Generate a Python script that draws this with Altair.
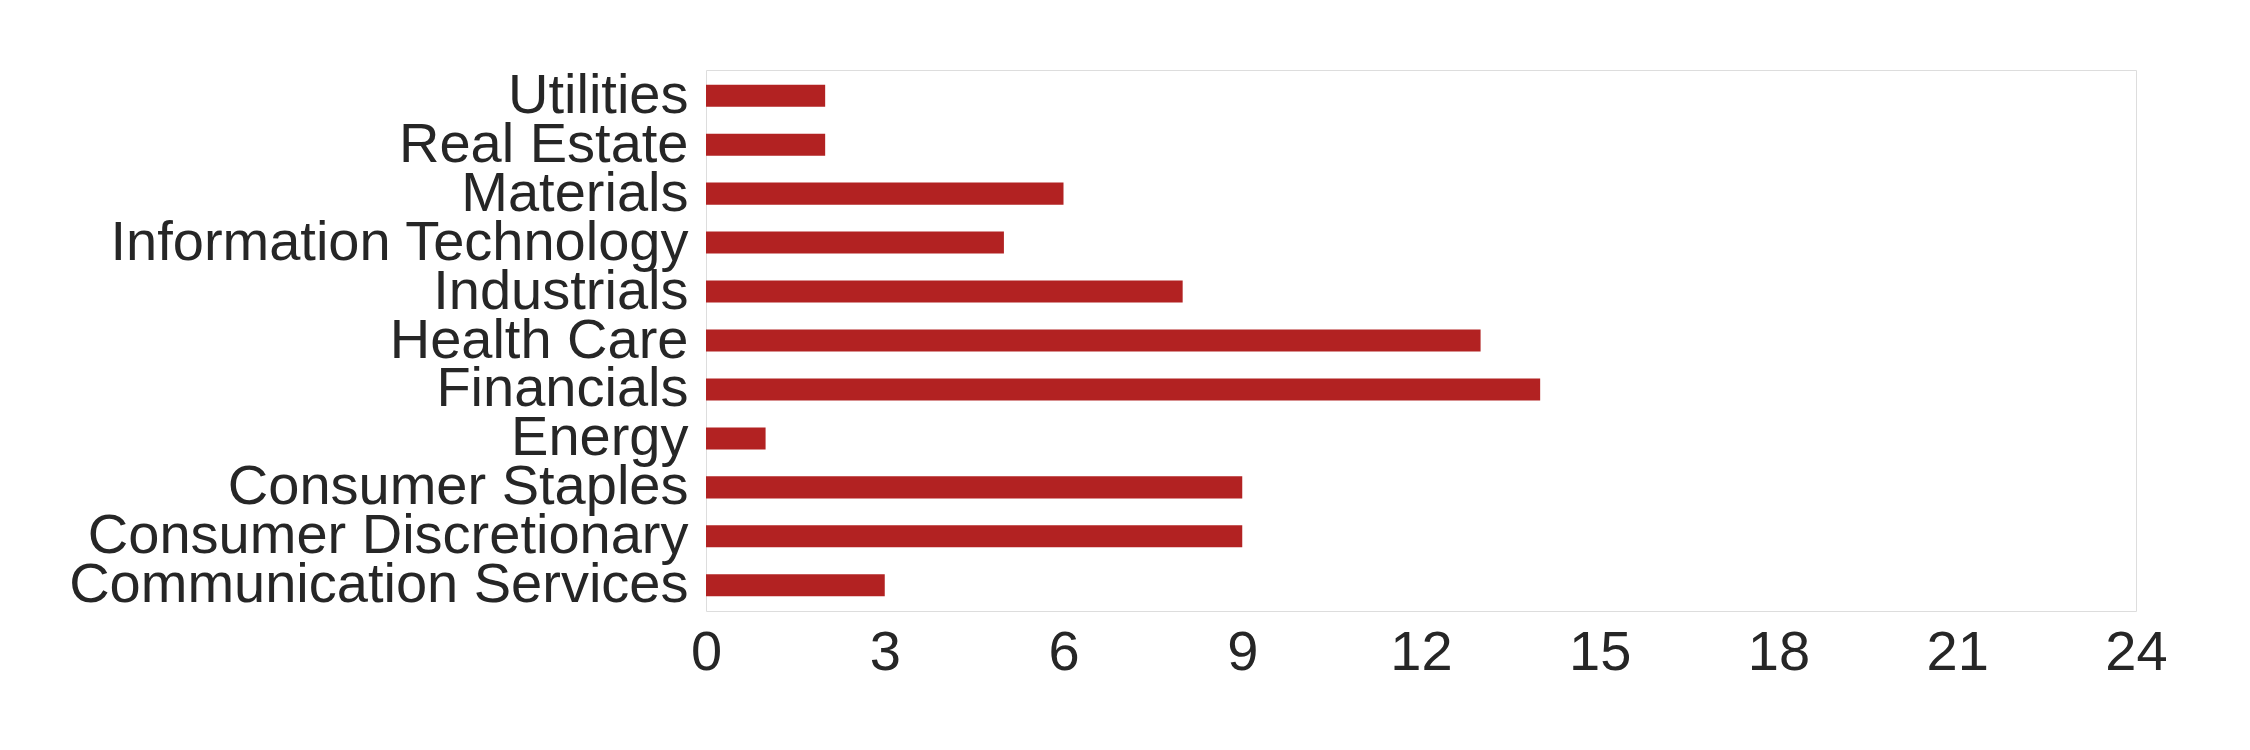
import altair as alt
import pandas as pd

sectors = ["Utilities", "Real Estate", "Materials", "Information Technology", "Industrials",
           "Health Care", "Financials", "Energy", "Consumer Staples",
           "Consumer Discretionary", "Communication Services"]
counts = [2, 2, 6, 5, 8, 13, 14, 1, 9, 9, 3]

df = pd.DataFrame({"sector": sectors, "count": counts})

chart = alt.Chart(df).mark_bar(color="#b22222").encode(
    x=alt.X("count:Q", scale=alt.Scale(domain=[0, 24], nice=False),
            axis=alt.Axis(values=list(range(0, 25, 3)), title=None, grid=False,
                          domain=False, ticks=False, labelFontSize=56, labelPadding=14,
                          labelFlush=False,
                          labelColor="#262626", labelFont="Liberation Sans")),
    y=alt.Y("sector:N", sort=sectors, scale=alt.Scale(paddingInner=0.55, paddingOuter=0.3),
            axis=alt.Axis(title=None, grid=False, domain=False, ticks=False,
                          labelFontSize=56, labelPadding=18, labelColor="#262626",
                          labelFont="Liberation Sans", labelLimit=1000)),
).properties(width=1430, height=541, padding={"left": 60, "top": 59, "right": 60, "bottom": 10}).configure_view(
    stroke="#c8c8c8", strokeWidth=2.5
).configure(background="white")

chart.save("out.html", embed_options={"renderer": "svg", "actions": False})
